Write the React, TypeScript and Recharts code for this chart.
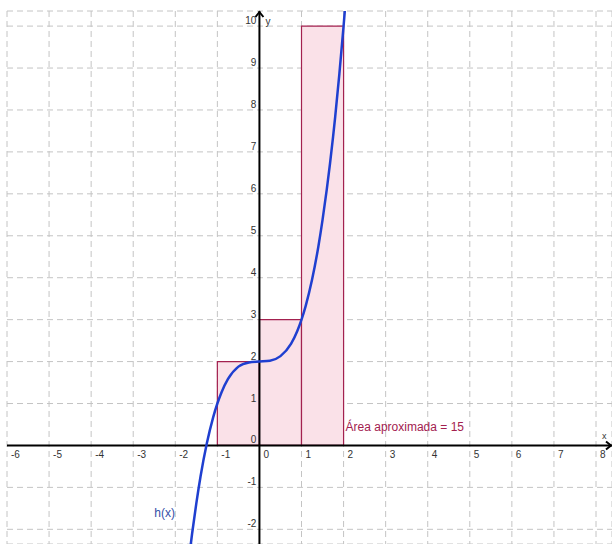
import React from "react";
import {
  CartesianGrid,
  ComposedChart,
  Line,
  ReferenceArea,
  ReferenceDot,
  ReferenceLine,
  XAxis,
  YAxis
} from "recharts";

// h(x)
const curveX = [-1.68, -1.6, -1.5, -1.4, -1.25, -1.1, -1, -0.9, -0.75, -0.5, -0.25, 0, 0.25, 0.5, 0.75, 0.9, 1, 1.1, 1.25, 1.4, 1.5, 1.6, 1.75, 1.8, 1.9, 2, 2.06];
const curveY = [-2.74, -2.1, -1.38, -0.74, 0.05, 0.67, 1, 1.27, 1.58, 1.88, 1.98, 2, 2.02, 2.13, 2.42, 2.73, 3, 3.33, 3.95, 4.74, 5.38, 6.1, 7.36, 7.83, 8.86, 10, 10.74];

// rectangles: left, right, height
const rectLeft = [-1, 0, 1];
const rectRight = [0, 1, 2];
const rectHeight = [2, 3, 10];

const xTicks = [-6, -5, -4, -3, -2, -1, 0, 1, 2, 3, 4, 5, 6, 7, 8];
const yTicks = [-2, -1, 0, 1, 2, 3, 4, 5, 6, 7, 8, 9, 10];

const xDomain: [number, number] = [-6, 8.38];
const yDomain: [number, number] = [-2.35, 10.36];

const data = curveX.map((x, i) => ({ x, y: curveY[i] }));

const labelFont = "'Liberation Sans', Arial, sans-serif";
const rose = "#a3214f";
const blue = "#1f3fd0";

export default function App() {
  return (
    <div style={{ position: "absolute", left: 0, top: 0, background: "#fff" }}>
      <ComposedChart
        width={612}
        height={544}
        data={data}
        margin={{ top: 11, right: 0, bottom: 0, left: 7 }}
      >
        <XAxis
          type="number"
          dataKey="x"
          domain={xDomain}
          ticks={xTicks}
          allowDataOverflow
          hide
        />
        <YAxis
          type="number"
          domain={yDomain}
          ticks={yTicks}
          allowDataOverflow
          hide
        />
        <CartesianGrid stroke="#c4c4c4" strokeDasharray="6 4" />

        {rectLeft.map((l, i) => (
          <ReferenceArea
            key={"r" + i}
            x1={l}
            x2={rectRight[i]}
            y1={0}
            y2={rectHeight[i]}
            fill="#fae1e8"
            fillOpacity={1}
            stroke={rose}
            strokeWidth={1.2}
          />
        ))}

        <ReferenceLine x={0} stroke="#000" strokeWidth={2} />
        <ReferenceLine y={0} stroke="#000" strokeWidth={2} />

        {/* arrow heads */}
        <ReferenceDot
          x={0}
          y={yDomain[1]}
          r={0}
          ifOverflow="visible"
          shape={(p: any) => (
            <g>
              <path
                d={`M${p.cx - 4},${p.cy + 6} L${p.cx},${p.cy + 1} L${p.cx + 4},${p.cy + 6}`}
                fill="none"
                stroke="#000"
                strokeWidth={2}
              />
              <text x={p.cx + 6} y={p.cy + 14} fontSize={10} fontFamily={labelFont} fill="#333">
                y
              </text>
            </g>
          )}
        />
        <ReferenceDot
          x={xDomain[1]}
          y={0}
          r={0}
          ifOverflow="visible"
          shape={(p: any) => (
            <g>
              <path
                d={`M${p.cx - 6},${p.cy - 4} L${p.cx - 1},${p.cy} L${p.cx - 6},${p.cy + 4}`}
                fill="none"
                stroke="#000"
                strokeWidth={2}
              />
              <text x={p.cx - 10} y={p.cy - 6} fontSize={9} fontFamily={labelFont} fill="#333">
                x
              </text>
            </g>
          )}
        />

        {xTicks.map((t) => (
          <ReferenceDot
            key={"xt" + t}
            x={t}
            y={0}
            r={0}
            ifOverflow="visible"
            shape={(p: any) => (
              <text x={p.cx + 4} y={p.cy + 13} fontSize={10} fontFamily={labelFont} fill="#333">
                {t}
              </text>
            )}
          />
        ))}
        {yTicks.map((t) => (
          <ReferenceDot
            key={"yt" + t}
            x={0}
            y={t}
            r={0}
            ifOverflow="visible"
            shape={(p: any) => (
              <text
                x={p.cx - 3}
                y={p.cy - 2}
                fontSize={10}
                textAnchor="end"
                fontFamily={labelFont}
                fill="#333"
              >
                {t}
              </text>
            )}
          />
        ))}

        <Line
          dataKey="y"
          type="monotone"
          stroke={blue}
          strokeWidth={2.5}
          dot={false}
          isAnimationActive={false}
        />

        <ReferenceDot
          x={2}
          y={0}
          r={0}
          ifOverflow="visible"
          shape={(p: any) => (
            <text x={p.cx + 2} y={p.cy - 14} fontSize={12} fontFamily={labelFont} fill={rose}>
              Área aproximada = 15
            </text>
          )}
        />
        <ReferenceDot
          x={-2.5}
          y={-1.6}
          r={0}
          ifOverflow="visible"
          shape={(p: any) => (
            <text x={p.cx} y={p.cy + 4} fontSize={12} fontFamily={labelFont} fill="#3550a8">
              h(x)
            </text>
          )}
        />
      </ComposedChart>
    </div>
  );
}
